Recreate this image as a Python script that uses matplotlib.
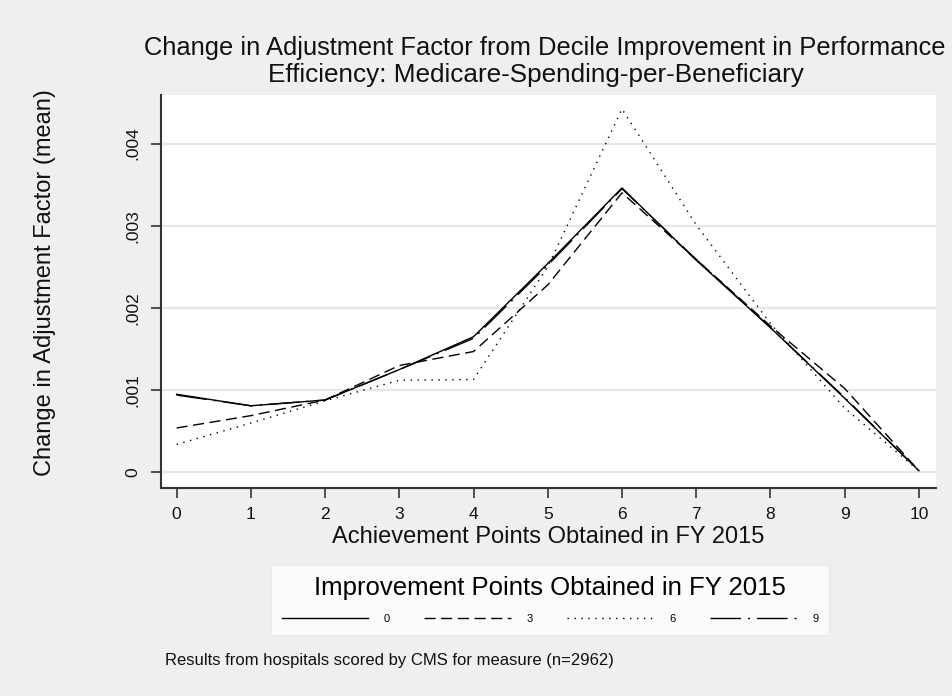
import matplotlib
matplotlib.use("Agg")
import matplotlib.pyplot as plt

# ── Données ───────────────────────────────────────────────────────────────────
achievement = [0, 1, 2, 3, 4, 5, 6, 7, 8, 9, 10]
impr_0 = [0.00095, 0.00081, 0.00088, 0.00125, 0.00165, 0.00254, 0.00346, 0.00258, 0.00176, 0.00090, 0.00002]
impr_3 = [0.00054, 0.00069, 0.00088, 0.00130, 0.00147, 0.00228, 0.00340, 0.00259, 0.00178, 0.00102, 0.00002]
impr_6 = [0.00034, 0.00060, 0.00087, 0.00112, 0.00113, 0.00250, 0.00442, 0.00301, 0.00181, 0.00078, 0.00002]
impr_9 = [0.00094, 0.00081, 0.00088, 0.00125, 0.00163, 0.00252, 0.00345, 0.00259, 0.00176, 0.00091, 0.00002]
series_labels = ["0", "3", "6", "9"]

yticks = [0, 0.001, 0.002, 0.003, 0.004]
ytick_labels = ["0", ".001", ".002", ".003", ".004"]

plt.rcParams["font.family"] = ["Liberation Sans", "DejaVu Sans"]

W, H = 953, 696
fig = plt.figure(figsize=(W / 100, H / 100), dpi=100, facecolor="#efefef")
ax = fig.add_axes([161 / W, 1 - 488 / H, 775 / W, 393 / H])
ax.set_facecolor("white")

styles = ["-", (0, (8, 4)), (0, (1, 4)), (0, (22, 5, 1.5, 5))]
for vals, lab, ls in zip([impr_0, impr_3, impr_6, impr_9], series_labels, styles):
    ax.plot(achievement, vals, color="black", linewidth=1.0, linestyle=ls, label=lab)

ax.set_xlim(-0.21, 10.23)
ax.set_ylim(-0.00019, 0.00459)
ax.set_xticks(achievement)
ax.set_yticks(yticks)
ax.set_yticklabels(ytick_labels, rotation=90, va="center")
ax.tick_params(axis="both", direction="out", length=7, width=1.2, color="#333333",
               labelsize=12.5, labelcolor="#111111")
ax.tick_params(axis="y", pad=8)
ax.tick_params(axis="x", pad=7)
ax.grid(axis="y", color="#e6e6e6", linewidth=1.6)
ax.set_axisbelow(True)
for side in ["top", "right"]:
    ax.spines[side].set_visible(False)
for side in ["left", "bottom"]:
    ax.spines[side].set_color("#333333")
    ax.spines[side].set_linewidth(1.5)

ax.set_xlabel("Achievement Points Obtained in FY 2015", fontsize=17, color="#111111")
ax.xaxis.set_label_coords(387 / 775, (488 - 526) / 393)
ax.set_ylabel("Change in Adjustment Factor (mean)", fontsize=17, color="#111111")
ax.yaxis.set_label_coords((45 - 161) / 775, (488 - 283) / 393)
ax.yaxis.label.set_va("center")

# titre sur deux lignes (la 1re ligne touche presque le bord droit)
fig.text(545 / W, 1 - 48 / H,
         "Change in Adjustment Factor from Decile Improvement in Performance",
         ha="center", va="center", fontsize=18.4, color="#111111")
fig.text(536 / W, 1 - 75 / H, "Efficiency: Medicare-Spending-per-Beneficiary",
         ha="center", va="center", fontsize=18.8, color="#111111")

leg = fig.legend(loc="center", ncol=4, mode="expand",
                 bbox_to_anchor=(265 / W, 1 - 637 / H, 570 / W, 74 / H),
                 title="Improvement Points Obtained in FY 2015", title_fontsize=18.5,
                 fontsize=8, handlelength=7.8, handletextpad=1.4, columnspacing=3.0,
                 labelspacing=1.2, frameon=True, fancybox=False, borderpad=1.0)
leg.get_frame().set_facecolor("white")
leg.get_frame().set_edgecolor("#e6e6e6")

fig.text(165 / W, 1 - 660 / H, "Results from hospitals scored by CMS for measure (n=2962)",
         ha="left", va="center", fontsize=12, color="#111111")

fig.savefig("out.png", dpi=100, facecolor=fig.get_facecolor())
